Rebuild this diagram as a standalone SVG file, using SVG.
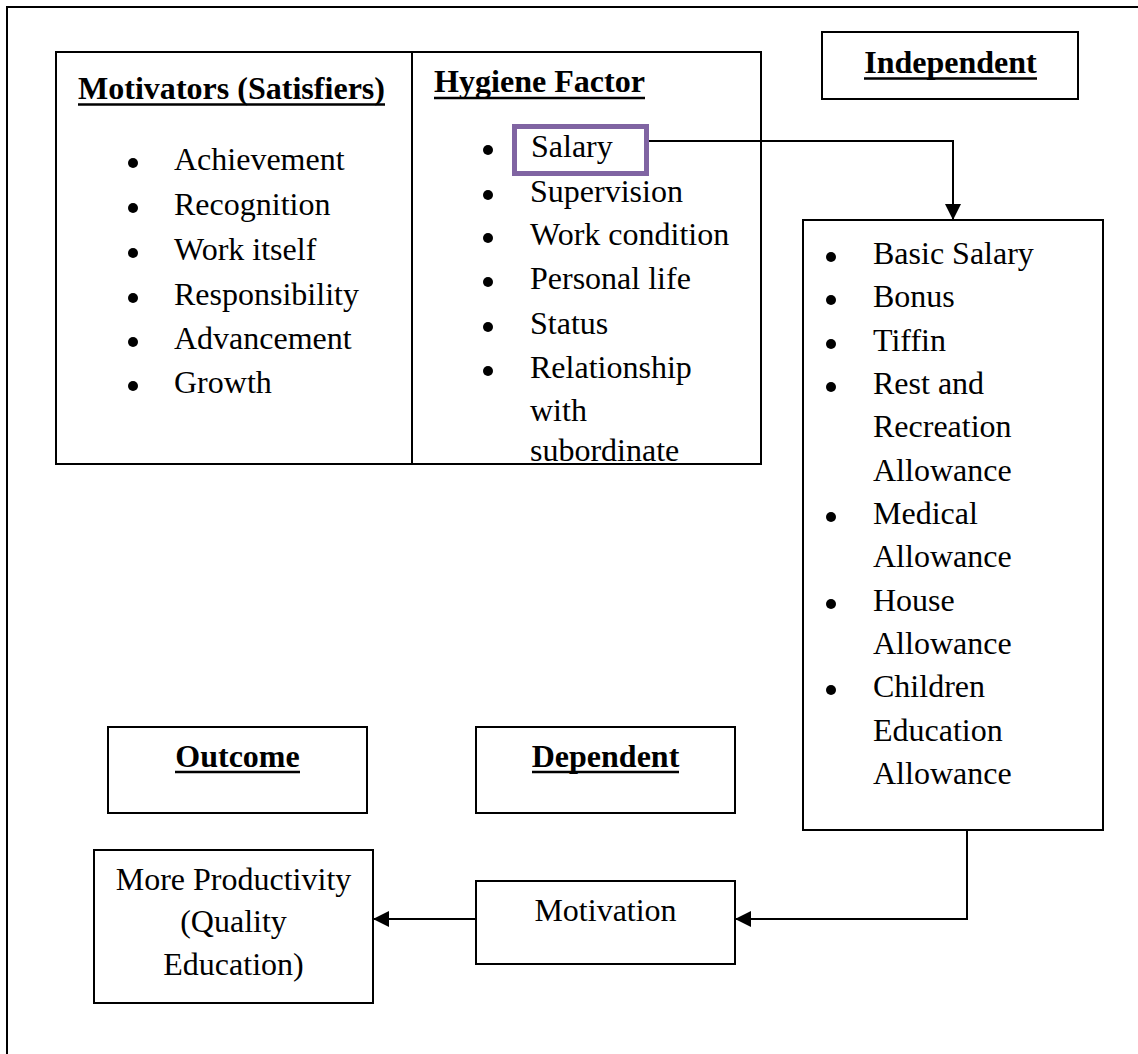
<svg xmlns="http://www.w3.org/2000/svg" width="1138" height="1054" viewBox="0 0 1138 1054">
<style>
  .box { fill: #ffffff; stroke: #000000; stroke-width: 2; }
  .t { font-family: "Liberation Serif", "Times New Roman", serif; font-size: 32px; fill: #000000; }
  .h { font-family: "Liberation Serif", "Times New Roman", serif; font-size: 32px; font-weight: bold; fill: #000000; }
  .c { text-anchor: middle; }
  .ul { stroke: #000000; stroke-width: 2.5; }
  .dot { fill: #000000; }
  .conn { fill: none; stroke: #000000; stroke-width: 2; }
</style>
<defs>
  <marker id="arrow" markerUnits="userSpaceOnUse" markerWidth="16" markerHeight="16" viewBox="0 0 14 14" refX="14" refY="7" orient="auto">
    <path d="M0,0 L14,7 L0,14 Z" fill="#000000"/>
  </marker>
</defs>
<rect x="0" y="0" width="1138" height="1054" fill="#ffffff"/>
<rect id="frame" x="7" y="7" width="1150" height="1070" fill="none" stroke="#000000" stroke-width="2"/>

<g id="factors-table">
  <rect class="box" x="56" y="52" width="705" height="412"/>
  <line x1="412" y1="52" x2="412" y2="464" stroke="#000000" stroke-width="2"/>
</g>

<g id="motivators">
  <text class="h" x="78" y="99" textLength="307" lengthAdjust="spacingAndGlyphs">Motivators (Satisfiers)</text>
  <line class="ul" x1="78" y1="104.5" x2="385" y2="104.5"/>
  <circle class="dot" cx="133" cy="163" r="5"/><text class="t" x="174" y="170">Achievement</text>
  <circle class="dot" cx="133" cy="208" r="5"/><text class="t" x="174" y="215">Recognition</text>
  <circle class="dot" cx="133" cy="253" r="5"/><text class="t" x="174" y="260">Work itself</text>
  <circle class="dot" cx="133" cy="298" r="5"/><text class="t" x="174" y="305">Responsibility</text>
  <circle class="dot" cx="133" cy="342" r="5"/><text class="t" x="174" y="349">Advancement</text>
  <circle class="dot" cx="133" cy="386" r="5"/><text class="t" x="174" y="393">Growth</text>
</g>

<g id="hygiene">
  <text class="h" x="434" y="92" textLength="211" lengthAdjust="spacingAndGlyphs">Hygiene Factor</text>
  <line class="ul" x1="434" y1="98" x2="645" y2="98"/>
  <circle class="dot" cx="488" cy="150" r="5"/>
  <circle class="dot" cx="488" cy="195" r="5"/><text class="t" x="530" y="202">Supervision</text>
  <circle class="dot" cx="488" cy="238" r="5"/><text class="t" x="530" y="245">Work condition</text>
  <circle class="dot" cx="488" cy="282" r="5"/><text class="t" x="530" y="289">Personal life</text>
  <circle class="dot" cx="488" cy="327" r="5"/><text class="t" x="530" y="334">Status</text>
  <circle class="dot" cx="488" cy="371" r="5"/><text class="t" x="530" y="378">Relationship</text>
  <text class="t" x="530" y="421">with</text>
  <text class="t" x="530" y="461">subordinate</text>
</g>

<g id="salary">
  <rect x="514.5" y="126.5" width="132" height="47" fill="none" stroke="#8064A2" stroke-width="5"/>
  <text class="t" x="531" y="157">Salary</text>
</g>

<g id="independent">
  <rect class="box" x="822" y="32" width="256" height="67"/>
  <text class="h c" x="950.5" y="73">Independent</text>
  <line class="ul" x1="864" y1="78.5" x2="1037" y2="78.5"/>
</g>

<g id="salary-components">
  <rect class="box" x="803" y="220" width="300" height="610"/>
  <circle class="dot" cx="831" cy="257" r="5"/><text class="t" x="873" y="264">Basic Salary</text>
  <circle class="dot" cx="831" cy="300" r="5"/><text class="t" x="873" y="307">Bonus</text>
  <circle class="dot" cx="831" cy="344" r="5"/><text class="t" x="873" y="351">Tiffin</text>
  <circle class="dot" cx="831" cy="387" r="5"/><text class="t" x="873" y="394">Rest and</text>
  <text class="t" x="873" y="437">Recreation</text>
  <text class="t" x="873" y="481">Allowance</text>
  <circle class="dot" cx="831" cy="517" r="5"/><text class="t" x="873" y="524">Medical</text>
  <text class="t" x="873" y="567">Allowance</text>
  <circle class="dot" cx="831" cy="604" r="5"/><text class="t" x="873" y="611">House</text>
  <text class="t" x="873" y="654">Allowance</text>
  <circle class="dot" cx="831" cy="690" r="5"/><text class="t" x="873" y="697">Children</text>
  <text class="t" x="873" y="741">Education</text>
  <text class="t" x="873" y="784">Allowance</text>
</g>

<g id="outcome">
  <rect class="box" x="108" y="727" width="259" height="86"/>
  <text class="h c" x="237.5" y="767">Outcome</text>
  <line class="ul" x1="175" y1="772" x2="300" y2="772"/>
</g>

<g id="dependent">
  <rect class="box" x="476" y="727" width="259" height="86"/>
  <text class="h c" x="605.5" y="767">Dependent</text>
  <line class="ul" x1="532" y1="772" x2="679" y2="772"/>
</g>

<g id="productivity">
  <rect class="box" x="94" y="850" width="279" height="153"/>
  <text class="t c" x="233.5" y="890">More Productivity</text>
  <text class="t c" x="233.5" y="932">(Quality</text>
  <text class="t c" x="233.5" y="975">Education)</text>
</g>

<g id="motivation">
  <rect class="box" x="476" y="881" width="259" height="83"/>
  <text class="t c" x="605.5" y="921">Motivation</text>
</g>

<g id="connectors">
  <path class="conn" d="M649,141 H953 V220" marker-end="url(#arrow)"/>
  <path class="conn" d="M967,830 V919 H735" marker-end="url(#arrow)"/>
  <path class="conn" d="M476,919 H373" marker-end="url(#arrow)"/>
</g>
</svg>
